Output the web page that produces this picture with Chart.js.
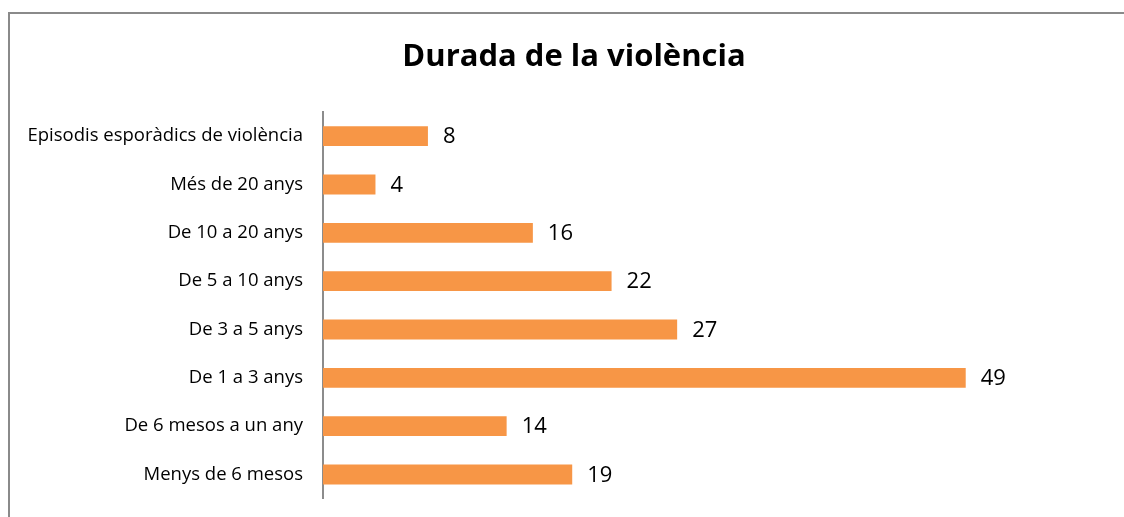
<!DOCTYPE html>
<html>
<head>
<meta charset="utf-8">
<script src="https://cdn.jsdelivr.net/npm/chart.js@4/dist/chart.umd.min.js"></script>
<style>
  html, body { margin: 0; padding: 0; background: #fff; overflow: hidden; }
  #wrap { position: relative; width: 1124px; height: 517px; }
  #frame { position: absolute; left: 8px; top: 12px; width: 1200px; height: 600px;
           border-left: 2px solid #8a8a8a; border-top: 2px solid #8a8a8a; box-sizing: border-box; }
  canvas { position: absolute; left: 0; top: 0; }
</style>
</head>
<body>
<div id="wrap">
  <div id="frame"></div>
  <canvas id="c" width="1124" height="517"></canvas>
</div>
<script>
const chartTitle = "Durada de la violència";
const categories = [
  "Episodis esporàdics de violència",
  "Més de 20 anys",
  "De 10 a 20 anys",
  "De 5 a 10 anys",
  "De 3 a 5 anys",
  "De 1 a 3 anys",
  "De 6 mesos a un any",
  "Menys de 6 mesos"
];
const values = [8, 4, 16, 22, 27, 49, 14, 19];
const xMax = 60;

const valueLabels = {
  id: 'valueLabels',
  afterDatasetsDraw(chart) {
    const ctx = chart.ctx;
    const meta = chart.getDatasetMeta(0);
    ctx.save();
    ctx.font = '22px "Open Sans"';
    ctx.fillStyle = '#000';
    ctx.textAlign = 'left';
    ctx.textBaseline = 'middle';
    meta.data.forEach((bar, i) => {
      ctx.fillText(String(values[i]), bar.x + 15, bar.y + 1);
    });
    ctx.restore();
  }
};

new Chart(document.getElementById('c'), {
  type: 'bar',
  data: {
    labels: categories,
    datasets: [{
      data: values,
      backgroundColor: '#F79646',
      borderWidth: 0,
      barPercentage: 0.41,
      categoryPercentage: 1.0
    }]
  },
  options: {
    indexAxis: 'y',
    responsive: false,
    animation: false,
    layout: { padding: { left: 38, right: 14, top: 0, bottom: 18.3 } },
    plugins: {
      legend: { display: false },
      tooltip: { enabled: false },
      title: {
        display: true,
        text: chartTitle,
        color: '#000',
        font: { family: '"Open Sans"', size: 31, weight: 'bold' },
        padding: { top: 38.4, bottom: 36.4 }
      }
    },
    scales: {
      x: {
        display: false,
        min: 0,
        max: xMax
      },
      y: {
        afterFit(scale) {
          scale.width = 285;
          scale.paddingTop = 0;
          scale.paddingBottom = 0;
          scale._computeLabelArea = function () {
            return { top: 0, left: 0, bottom: this.chart.height, right: this.right };
          };
        },
        grid: { display: false, drawTicks: false },
        border: { display: true, color: '#8c8c8c', width: 2 },
        ticks: {
          color: '#000',
          padding: 20,
          font: { family: '"Open Sans"', size: 18.5 }
        }
      }
    }
  },
  plugins: [valueLabels]
});
</script>
</body>
</html>
